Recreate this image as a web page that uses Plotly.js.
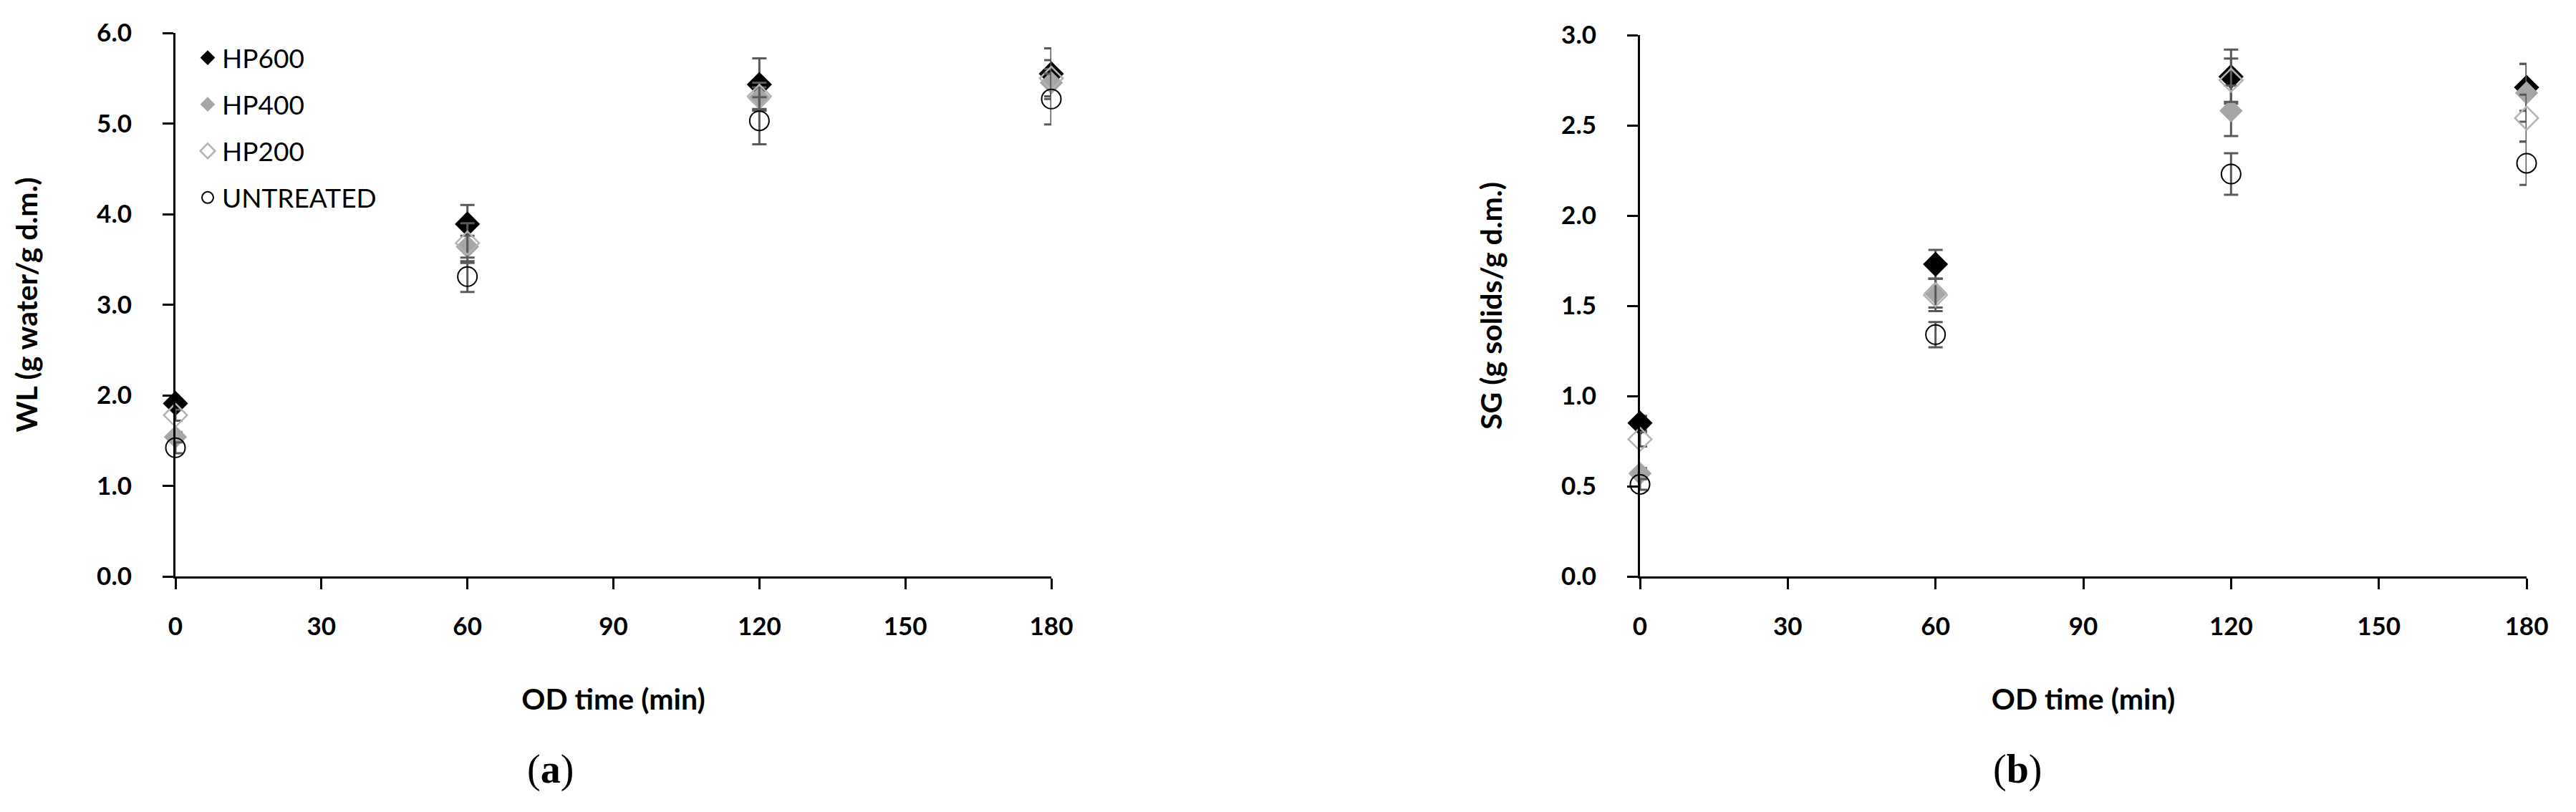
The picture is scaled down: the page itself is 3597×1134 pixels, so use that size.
<!DOCTYPE html>
<html>
<head>
<meta charset="utf-8">
<script src="https://cdn.plot.ly/plotly-3.0.1.min.js"></script>
<style>html,body{margin:0;padding:0;background:#fff;}#chart{width:3597px;height:1134px;}</style>
</head>
<body>
<div id="chart"></div>
<script>
// ---- data ----
const times = [0, 60, 120, 180];
const seriesNames = ["HP600", "HP400", "HP200", "UNTREATED"];

// Panel (a): WL (g water/g d.m.)
const wlHP600 = [1.91, 3.89, 5.43, 5.55];
const wlHP600Err = [0.05, 0.21, 0.29, 0.28];
const wlHP400 = [1.54, 3.64, 5.28, 5.45];
const wlHP400Err = [0.05, 0.12, 0.12, 0.15];
const wlHP200 = [1.78, 3.68, 5.30, 5.50];
const wlHP200Err = [0.06, 0.22, 0.15, 0.20];
const wlUntreated = [1.42, 3.31, 5.03, 5.27];
const wlUntreatedErr = [0.06, 0.17, 0.26, 0.28];

// Panel (b): SG (g solids/g d.m.)
const sgHP600 = [0.85, 1.73, 2.77, 2.71];
const sgHP600Err = [0.04, 0.08, 0.15, 0.13];
const sgHP400 = [0.57, 1.57, 2.58, 2.68];
const sgHP400Err = [0.03, 0.08, 0.14, 0.16];
const sgHP200 = [0.76, 1.56, 2.75, 2.54];
const sgHP200Err = [0.04, 0.09, 0.12, 0.13];
const sgUntreated = [0.51, 1.34, 2.23, 2.29];
const sgUntreatedErr = [0.03, 0.07, 0.115, 0.12];

const xTicks = [0, 30, 60, 90, 120, 150, 180];
const wlTicks = [0, 1, 2, 3, 4, 5, 6];
const sgTicks = [0, 0.5, 1, 1.5, 2, 2.5, 3];

// ---- styles ----
const errColor = "#595959";
const markerStyles = [
  {symbol: "diamond", size: 27, color: "#000000", line: {color: "#000000", width: 0}},
  {symbol: "diamond", size: 25, color: "#a6a6a6", line: {color: "#a6a6a6", width: 0}},
  {symbol: "diamond-open", size: 25, color: "#b3b3b3", line: {color: "#b3b3b3", width: 2.5}},
  {symbol: "circle-open", size: 27, color: "#000000", line: {color: "#000000", width: 2}}
];

function mk(name, idx, y, err, xa, ya, showLeg) {
  return {
    type: "scatter", mode: "markers", name: name,
    x: times, y: y,
    xaxis: xa, yaxis: ya,
    legendgroup: name, showlegend: showLeg,
    cliponaxis: false,
    marker: markerStyles[idx],
    error_y: {type: "data", array: err, visible: true, color: errColor, thickness: 3, width: 10}
  };
}

const traces = [
  mk(seriesNames[0], 0, wlHP600, wlHP600Err, "x", "y", true),
  mk(seriesNames[1], 1, wlHP400, wlHP400Err, "x", "y", true),
  mk(seriesNames[2], 2, wlHP200, wlHP200Err, "x", "y", true),
  mk(seriesNames[3], 3, wlUntreated, wlUntreatedErr, "x", "y", true),
  mk(seriesNames[0], 0, sgHP600, sgHP600Err, "x2", "y2", false),
  mk(seriesNames[1], 1, sgHP400, sgHP400Err, "x2", "y2", false),
  mk(seriesNames[2], 2, sgHP200, sgHP200Err, "x2", "y2", false),
  mk(seriesNames[3], 3, sgUntreated, sgUntreatedErr, "x2", "y2", false)
];

const tickFont = {family: "Lato, 'Open Sans', sans-serif", size: 35, color: "#000", weight: "bold"};
const titleFont = {family: "Lato, 'Open Sans', sans-serif", size: 41, color: "#000", weight: "bold"};

function xAxis(domain, anchor) {
  return {
    domain: domain, anchor: anchor, range: [0, 180],
    tickmode: "array", tickvals: xTicks, ticktext: xTicks.map(String),
    showline: true, linecolor: "#000", linewidth: 3,
    ticks: "outside", ticklen: 15, tickwidth: 3, tickcolor: "#000",
    showgrid: false, zeroline: false,
    tickfont: tickFont, ticklabelstandoff: 22,
    title: {text: "<b>OD time (min)</b>", font: titleFont, standoff: 70}
  };
}
function yAxis(domain, anchor, range, ticks, title) {
  return {
    domain: domain, anchor: anchor, range: range,
    tickmode: "array", tickvals: ticks, ticktext: ticks.map(v => v.toFixed(1)),
    showline: true, linecolor: "#000", linewidth: 3,
    ticks: "outside", ticklen: 15, tickwidth: 3, tickcolor: "#000",
    showgrid: false, zeroline: false,
    tickfont: tickFont, ticklabelstandoff: 36,
    title: {text: "<b>" + title + "</b>", font: titleFont, standoff: 70}
  };
}

const H = 1134, W = 3597;
const layout = {
  width: W, height: H,
  margin: {l: 0, r: 0, t: 0, b: 0},
  paper_bgcolor: "#fff", plot_bgcolor: "#fff",
  showlegend: true,
  legend: {
    x: 270 / W, y: 1 - 50 / H, xanchor: "left", yanchor: "top",
    bgcolor: "rgba(0,0,0,0)", borderwidth: 0,
    font: {family: "Lato, 'Open Sans', sans-serif", size: 37, color: "#000"},
    traceorder: "grouped", tracegroupgap: 14, itemsizing: "trace"
  },
  xaxis: xAxis([245 / W, 1468 / W], "y"),
  yaxis: yAxis([1 - 805 / H, 1 - 46 / H], "x", [0, 6], wlTicks, "WL (g water/g d.m.)"),
  xaxis2: xAxis([2290 / W, 3528 / W], "y2"),
  yaxis2: yAxis([1 - 805 / H, 1 - 49 / H], "x2", [0, 3], sgTicks, "SG (g solids/g d.m.)"),
  annotations: [
    {xref: "paper", yref: "paper", x: 768 / W, y: 1 - 1074 / H, xanchor: "center", yanchor: "middle",
     text: "(<b>a</b>)", showarrow: false, font: {family: "'Liberation Serif', serif", size: 56, color: "#000"}},
    {xref: "paper", yref: "paper", x: 2817 / W, y: 1 - 1074 / H, xanchor: "center", yanchor: "middle",
     text: "(<b>b</b>)", showarrow: false, font: {family: "'Liberation Serif', serif", size: 56, color: "#000"}}
  ]
};

Plotly.newPlot("chart", traces, layout, {displayModeBar: false, staticPlot: true});
</script>
</body>
</html>
